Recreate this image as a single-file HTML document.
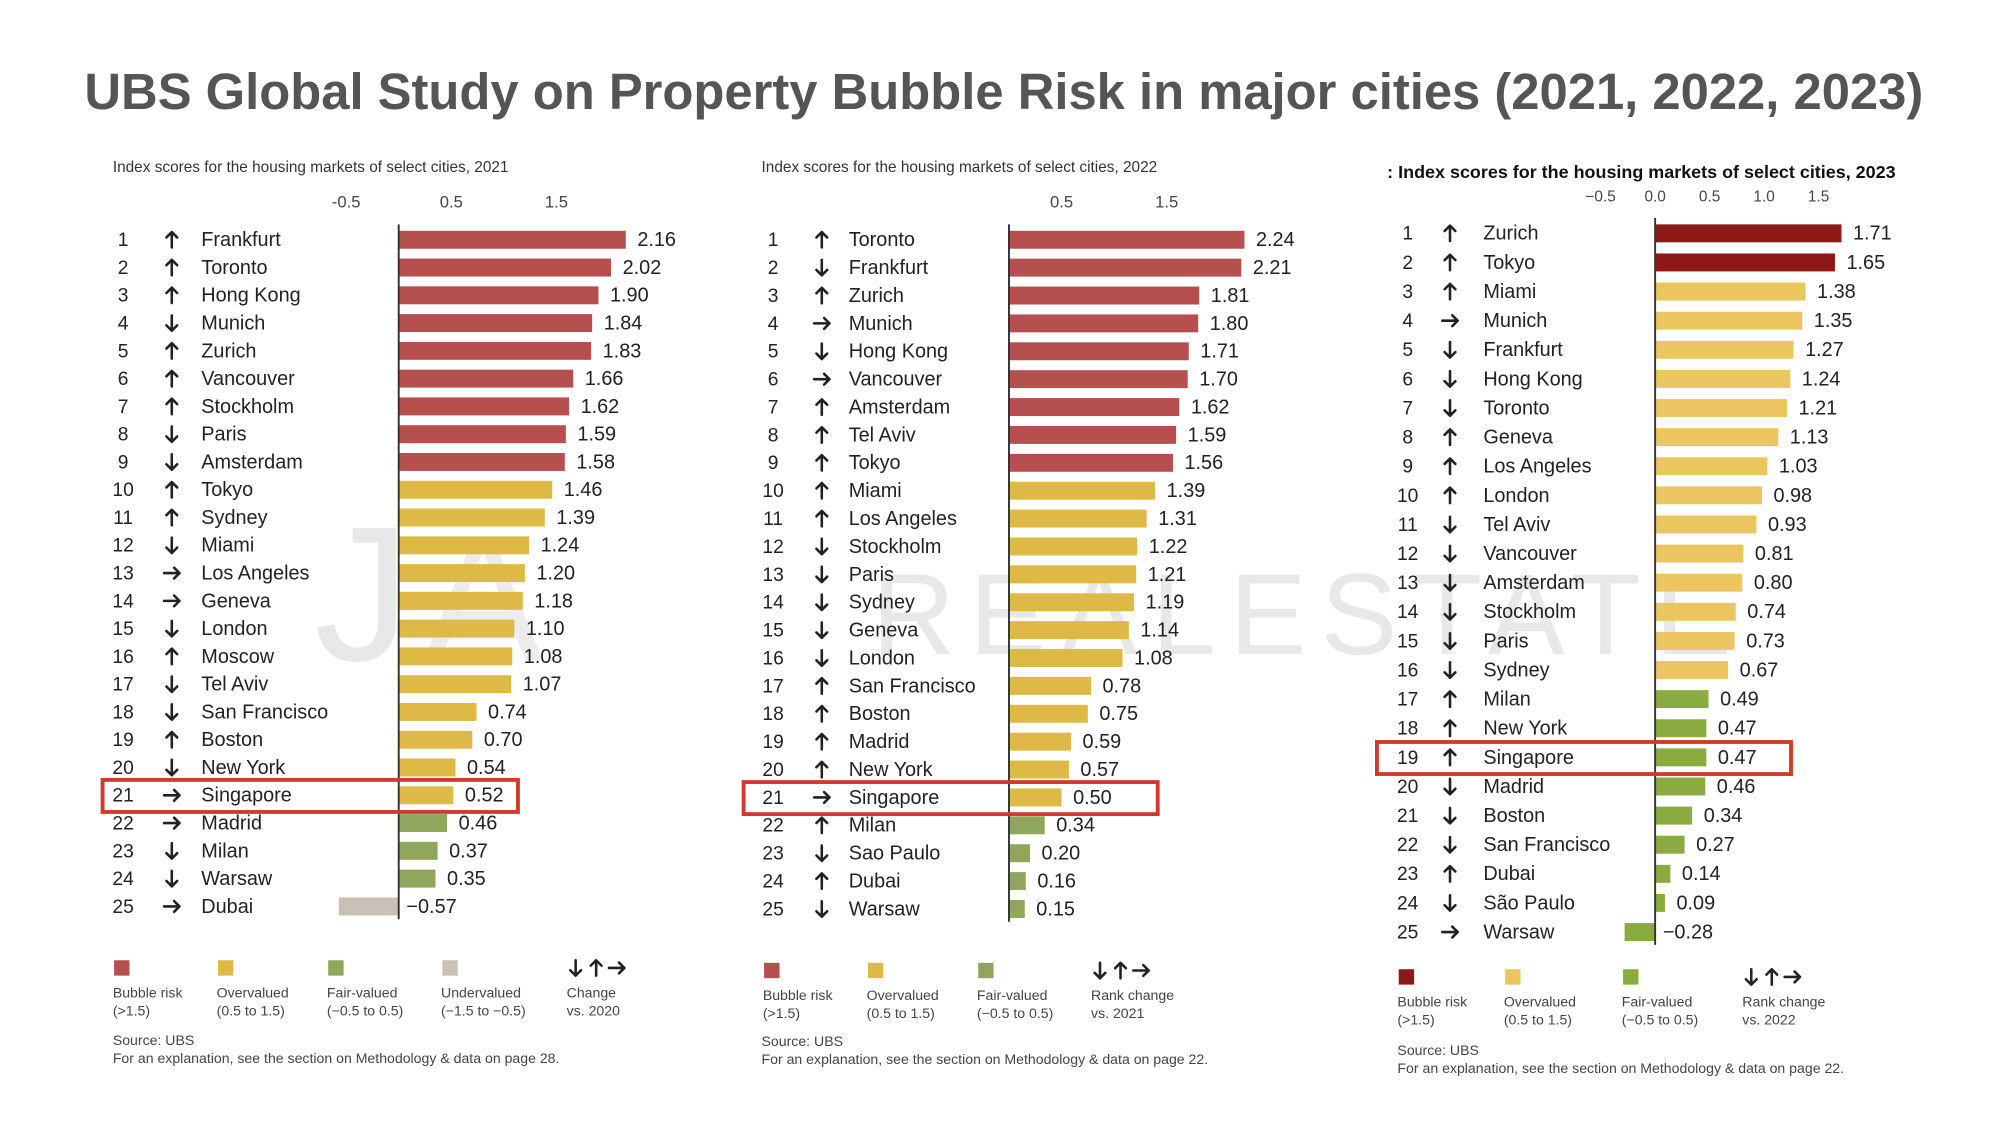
<!DOCTYPE html>
<html><head><meta charset="utf-8"><style>
html,body{margin:0;padding:0;background:#fff;width:2000px;height:1125px;overflow:hidden}
svg text{font-family:"Liberation Sans",sans-serif}
</style></head><body>
<svg id="chart" width="2000" height="1125" viewBox="0 0 1560 877.5" xmlns="http://www.w3.org/2000/svg">
<text x="783" y="85" text-anchor="middle" font-size="39.6" font-weight="bold" fill="#555">UBS Global Study on Property Bubble Risk in major cities (2021, 2022, 2023)</text>
<g opacity="0.22">
<text x="245" y="515" font-size="150" font-family="Liberation Serif,serif" fill="#999">J</text>
<text x="330" y="515" font-size="140" fill="#aaa">A</text>
<text x="680" y="510" font-size="90" fill="#999" letter-spacing="11">REALESTATE</text>
</g>
<g id="panels"></g>
</svg>
<script>
const cities2021=["Frankfurt","Toronto","Hong Kong","Munich","Zurich","Vancouver","Stockholm","Paris","Amsterdam","Tokyo","Sydney","Miami","Los Angeles","Geneva","London","Moscow","Tel Aviv","San Francisco","Boston","New York","Singapore","Madrid","Milan","Warsaw","Dubai"];
const values2021=[2.16,2.02,1.90,1.84,1.83,1.66,1.62,1.59,1.58,1.46,1.39,1.24,1.20,1.18,1.10,1.08,1.07,0.74,0.70,0.54,0.52,0.46,0.37,0.35,-0.57];
const arrows2021=["↑","↑","↑","↓","↑","↑","↑","↓","↓","↑","↑","↓","→","→","↓","↑","↓","↓","↑","↓","→","→","↓","↓","→"];
const cities2022=["Toronto","Frankfurt","Zurich","Munich","Hong Kong","Vancouver","Amsterdam","Tel Aviv","Tokyo","Miami","Los Angeles","Stockholm","Paris","Sydney","Geneva","London","San Francisco","Boston","Madrid","New York","Singapore","Milan","Sao Paulo","Dubai","Warsaw"];
const values2022=[2.24,2.21,1.81,1.80,1.71,1.70,1.62,1.59,1.56,1.39,1.31,1.22,1.21,1.19,1.14,1.08,0.78,0.75,0.59,0.57,0.50,0.34,0.20,0.16,0.15];
const arrows2022=["↑","↓","↑","→","↓","→","↑","↑","↑","↑","↑","↓","↓","↓","↓","↓","↑","↑","↑","↑","→","↑","↓","↑","↓"];
const cities2023=["Zurich","Tokyo","Miami","Munich","Frankfurt","Hong Kong","Toronto","Geneva","Los Angeles","London","Tel Aviv","Vancouver","Amsterdam","Stockholm","Paris","Sydney","Milan","New York","Singapore","Madrid","Boston","San Francisco","Dubai","São Paulo","Warsaw"];
const values2023=[1.71,1.65,1.38,1.35,1.27,1.24,1.21,1.13,1.03,0.98,0.93,0.81,0.80,0.74,0.73,0.67,0.49,0.47,0.47,0.46,0.34,0.27,0.14,0.09,-0.28];
const arrows2023=["↑","↑","↑","→","↓","↓","↓","↑","↑","↑","↓","↓","↓","↓","↓","↓","↑","↑","↑","↓","↓","↓","↑","↓","→"];
const ticks2021=["-0.5","0.5","1.5"],tickVals2021=[-0.5,0.5,1.5];
const ticks2022=["0.5","1.5"],tickVals2022=[0.5,1.5];
const ticks2023=["−0.5","0.0","0.5","1.0","1.5"],tickVals2023=[-0.5,0,0.5,1,1.5];

const NS="http://www.w3.org/2000/svg";
const root=document.getElementById('panels');
function mk(tag,attrs,parent,text){const e=document.createElementNS(NS,tag);for(const k in attrs)e.setAttribute(k,attrs[k]);if(text!==undefined)e.textContent=text;parent.appendChild(e);return e;}
function arrowIcon(parent,dir,cx,cy,s){
 let d;
 if(dir==="↑")d=`M${cx},${cy+s} L${cx},${cy-s} M${cx-s*0.7},${cy-s*0.3} L${cx},${cy-s} L${cx+s*0.7},${cy-s*0.3}`;
 else if(dir==="↓")d=`M${cx},${cy-s} L${cx},${cy+s} M${cx-s*0.7},${cy+s*0.3} L${cx},${cy+s} L${cx+s*0.7},${cy+s*0.3}`;
 else d=`M${cx-s},${cy} L${cx+s},${cy} M${cx+s*0.3},${cy-s*0.7} L${cx+s},${cy} L${cx+s*0.3},${cy+s*0.7}`;
 return mk('path',{d:d,fill:'none',stroke:'#222','stroke-width':2,'stroke-linecap':'round','stroke-linejoin':'round'},parent);
}

const panels=[
 {cities:cities2021,values:values2021,arrows:arrows2021,ticks:ticks2021,tv:tickVals2021,zero:311,unit:82,y0:187,y1:707,rx:96,ax:134,cx:157,sub:"Index scores for the housing markets of select cities, 2021",subx:88,suby:134,subBold:false,tickY:162,hl:21,hlx:80,hlw:324,
  col:{b:"#b5504f",o:"#dfb945",f:"#8fa65c",u:"#c9c0b6"},
  legend:[[95,"Bubble risk","(>1.5)","b"],[176,"Overvalued","(0.5 to 1.5)","o"],[262,"Fair-valued","(−0.5 to 0.5)","f"],[351,"Undervalued","(−1.5 to −0.5)","u"]],arrowX:443,changeTxt:["Change","vs. 2020"],legY:755,src:["Source: UBS","For an explanation, see the section on Methodology & data on page 28."],srcY:815,srcX:88},
 {cities:cities2022,values:values2022,arrows:arrows2022,ticks:ticks2022,tv:tickVals2022,zero:787,unit:82,y0:187,y1:709,rx:603,ax:641,cx:662,sub:"Index scores for the housing markets of select cities, 2022",subx:594,suby:134,subBold:false,tickY:162,hl:21,hlx:580,hlw:323,
  col:{b:"#b5504f",o:"#dfb945",f:"#8fa65c",u:"#c9c0b6"},
  legend:[[602,"Bubble risk","(>1.5)","b"],[683,"Overvalued","(0.5 to 1.5)","o"],[769,"Fair-valued","(−0.5 to 0.5)","f"]],arrowX:852,changeTxt:["Rank change","vs. 2021"],legY:757,src:["Source: UBS","For an explanation, see the section on Methodology & data on page 22."],srcY:816,srcX:594},
 {cities:cities2023,values:values2023,arrows:arrows2023,ticks:ticks2023,tv:tickVals2023,zero:1291,unit:85,y0:182,y1:727,rx:1098,ax:1131,cx:1157,sub:": Index scores for the housing markets of select cities, 2023",subx:1082,suby:139,subBold:true,tickY:157,hl:19,hlx:1074,hlw:323,
  col:{b:"#8b1a17",o:"#ebc660",f:"#8aab3f",u:"#c9c0b6"},
  legend:[[1097,"Bubble risk","(>1.5)","b"],[1180,"Overvalued","(0.5 to 1.5)","o"],[1272,"Fair-valued","(−0.5 to 0.5)","f"]],arrowX:1360,changeTxt:["Rank change","vs. 2022"],legY:762,src:["Source: UBS","For an explanation, see the section on Methodology & data on page 22."],srcY:823,srcX:1090}
];

function cat(v){return v>1.5?"b":v>=0.5?"o":v>=-0.5?"f":"u";}

panels.forEach((p,pi)=>{
 const g=mk('g',{},root);
 
 
 const xs=v=>p.zero+v*p.unit;
 const n=p.cities.length, step=(p.y1-p.y0)/(n-1);
 const ys=i=>p.y0+i*step;
 const st=mk('text',{x:p.subx,y:p.suby,'font-size':p.subBold?14:12,'font-weight':p.subBold?'bold':'normal',fill:p.subBold?'#111':'#333'},g,p.sub);
 
 
 p.ticks.forEach((t,i)=>{
  const tt=mk('text',{x:xs(p.tv[i]),y:p.tickY,'text-anchor':'middle','font-size':p.subBold?12:13,fill:'#444'},g,t);
  
  
 });
 p.cities.forEach((c,i)=>{
  const y=ys(i), v=p.values[i];
  const r=mk('text',{x:p.rx,y:y+5,'text-anchor':'middle','font-size':15,fill:'#222'},g,String(i+1));
  
  
  const a=arrowIcon(g,p.arrows[i],p.ax,y,6);
  
  
  const cl=mk('text',{x:p.cx,y:y+5,'font-size':15.5,fill:'#222'},g,c);
  
  
  const x0=Math.min(xs(0),xs(v)), w=Math.abs(xs(v)-xs(0));
  const b=mk('rect',{x:x0,y:y-7,width:w,height:14,fill:p.col[cat(v)]},g);
  
  
  const vx=v<0?xs(0)+6:xs(v)+9;
  const vl=mk('text',{x:vx,y:y+5,'font-size':15.5,fill:'#222'},g,(v<0?"−":"")+Math.abs(v).toFixed(2));
  
  
 });
 const ax=mk('line',{x1:p.zero,x2:p.zero,y1:p.y0-12,y2:p.y1+10,stroke:'#333','stroke-width':1.5},g);
 
 
 const hy=ys(p.hl-1);
 const hb=mk('rect',{x:p.hlx,y:hy-12,width:p.hlw,height:25,fill:'none',stroke:'#d0392b','stroke-width':3},g);
 
 
 p.legend.forEach(L=>{
  const s=mk('rect',{x:L[0]-6,y:p.legY-6,width:12,height:12,fill:p.col[L[3]]},g);
  
  
  const t1=mk('text',{x:L[0]-7,y:p.legY+23,'font-size':11,fill:'#444'},g,L[1]);
  
  
  mk('text',{x:L[0]-7,y:p.legY+37,'font-size':11,fill:'#444'},g,L[2]);
 });
 const lg=mk('g',{},g);
 
 
 arrowIcon(lg,"↓",p.arrowX+6,p.legY,6);
 arrowIcon(lg,"↑",p.arrowX+22,p.legY,6);
 arrowIcon(lg,"→",p.arrowX+38,p.legY,6);
 mk('text',{x:p.arrowX-1,y:p.legY+23,'font-size':11,fill:'#444'},g,p.changeTxt[0]);
 mk('text',{x:p.arrowX-1,y:p.legY+37,'font-size':11,fill:'#444'},g,p.changeTxt[1]);
 const s1=mk('text',{x:p.srcX,y:p.srcY,'font-size':11,fill:'#444'},g,p.src[0]);
 
 
 mk('text',{x:p.srcX,y:p.srcY+14,'font-size':11,fill:'#444'},g,p.src[1]);
});
</script>
</body></html>
